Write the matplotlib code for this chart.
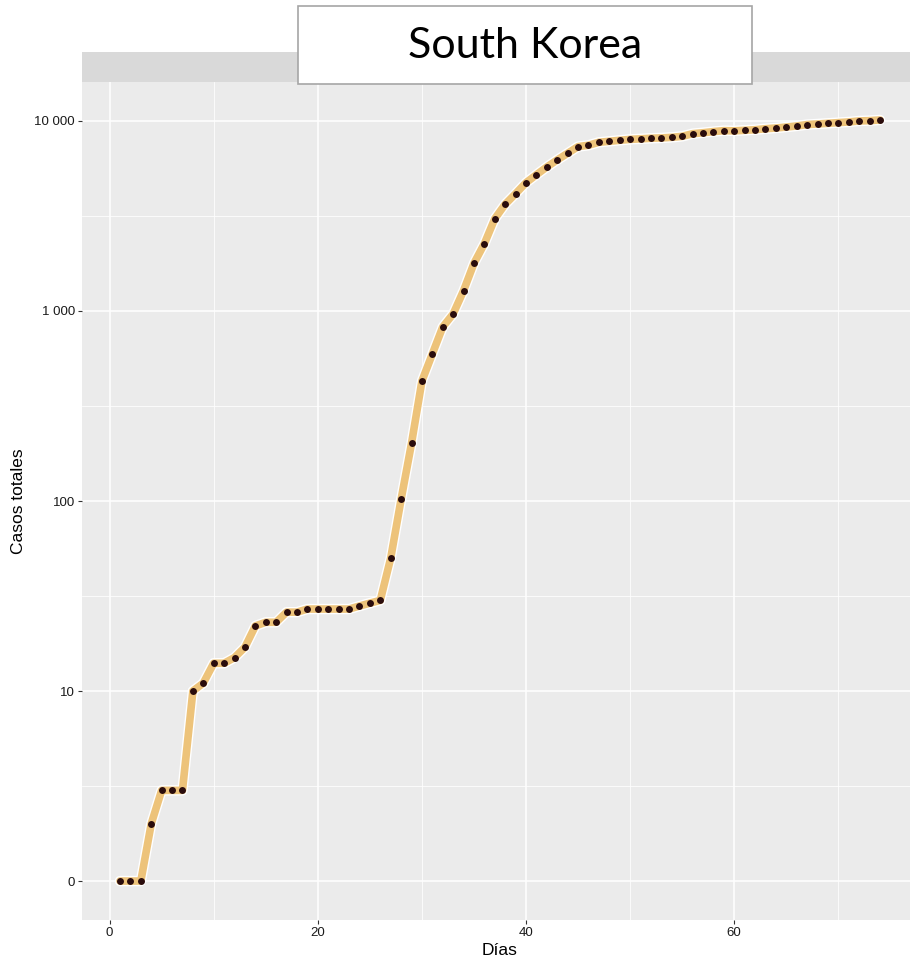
import matplotlib
matplotlib.use("Agg")
import matplotlib.pyplot as plt
from matplotlib.patches import Rectangle
import numpy as np

plt.rcParams["font.family"] = ["Liberation Sans", "DejaVu Sans"]

# Cumulative confirmed cases, one value per day
dias = list(range(1, 75))
casos = [
    1, 1, 1, 2, 3, 3, 3, 10, 11, 14,
    14, 15, 17, 22, 23, 23, 26, 26, 27, 27,
    27, 27, 27, 28, 29, 30, 50, 102, 201, 428,
    594, 824, 965, 1279, 1782, 2261, 3060, 3646, 4143, 4733,
    5213, 5725, 6237, 6760, 7328, 7450, 7722, 7815, 7913, 8000,
    8050, 8110, 8140, 8200, 8300, 8570, 8670, 8790, 8890, 8870,
    8930, 8990, 9100, 9180, 9290, 9410, 9570, 9640, 9720, 9800,
    9880, 10000, 10040, 10120,
]

y_ticks = [1, 10, 100, 1000, 10000]
y_labels = ["0", "10", "100", "1 000", "10 000"]
x_ticks = [0, 20, 40, 60]
pais = "South Korea"

W, H = 910, 964
fig = plt.figure(figsize=(W / 100, H / 100), dpi=100)
fig.patch.set_facecolor("white")

# panel spans x 82..918 px, y 82..920 px (from top)
ax = fig.add_axes([82 / W, (H - 920) / H, (918 - 82) / W, (920 - 82) / H])
ax.set_facecolor("#EBEBEB")
for s in ax.spines.values():
    s.set_visible(False)

ax.set_yscale("log")
ax.set_xlim(-2.65, 77.65)
ax.set_ylim(10 ** -0.205, 10 ** 4.205)

ax.set_xticks(x_ticks)
ax.set_xticks([10, 30, 50, 70], minor=True)
ax.set_yticks(y_ticks)
ax.set_yticklabels(y_labels)
ax.set_yticks([10 ** (k + 0.5) for k in range(4)], minor=True)
ax.yaxis.set_minor_formatter(plt.NullFormatter())

ax.grid(which="major", color="white", linewidth=1.1)
ax.grid(which="minor", color="white", linewidth=0.55)
ax.set_axisbelow(True)
ax.tick_params(which="major", length=3, width=0.8, color="#333333",
               labelsize=9.5, labelcolor="#1a1a1a", pad=2)
ax.tick_params(which="minor", length=0)

ax.set_xlabel("Días", fontsize=12.5, labelpad=3)
ax.set_ylabel("Casos totales", fontsize=12.5, labelpad=6)

ax.plot(dias, casos, color="white", linewidth=7.5, solid_capstyle="round", zorder=2)
ax.plot(dias, casos, color="#EDC37A", linewidth=5.5, solid_capstyle="round", zorder=3)
ax.plot(dias, casos, "o", color="#2A0C0C", markersize=5, markeredgewidth=0, zorder=4)

# facet strip and the title box laid over it
fig.patches.append(Rectangle((82 / W, (H - 82) / H), (918 - 82) / W, 30 / H,
                             transform=fig.transFigure, facecolor="#D9D9D9",
                             edgecolor="none"))
fig.patches.append(Rectangle((298 / W, (H - 84) / H), (752 - 298) / W, 78 / H,
                             transform=fig.transFigure, facecolor="white",
                             edgecolor="#A6A6A6", linewidth=1.2, zorder=5))
fig.text(525 / W, (H - 46) / H, pais, fontsize=31, family="Lato",
         ha="center", va="center", color="black", zorder=6)

fig.savefig("out.png", dpi=100)
